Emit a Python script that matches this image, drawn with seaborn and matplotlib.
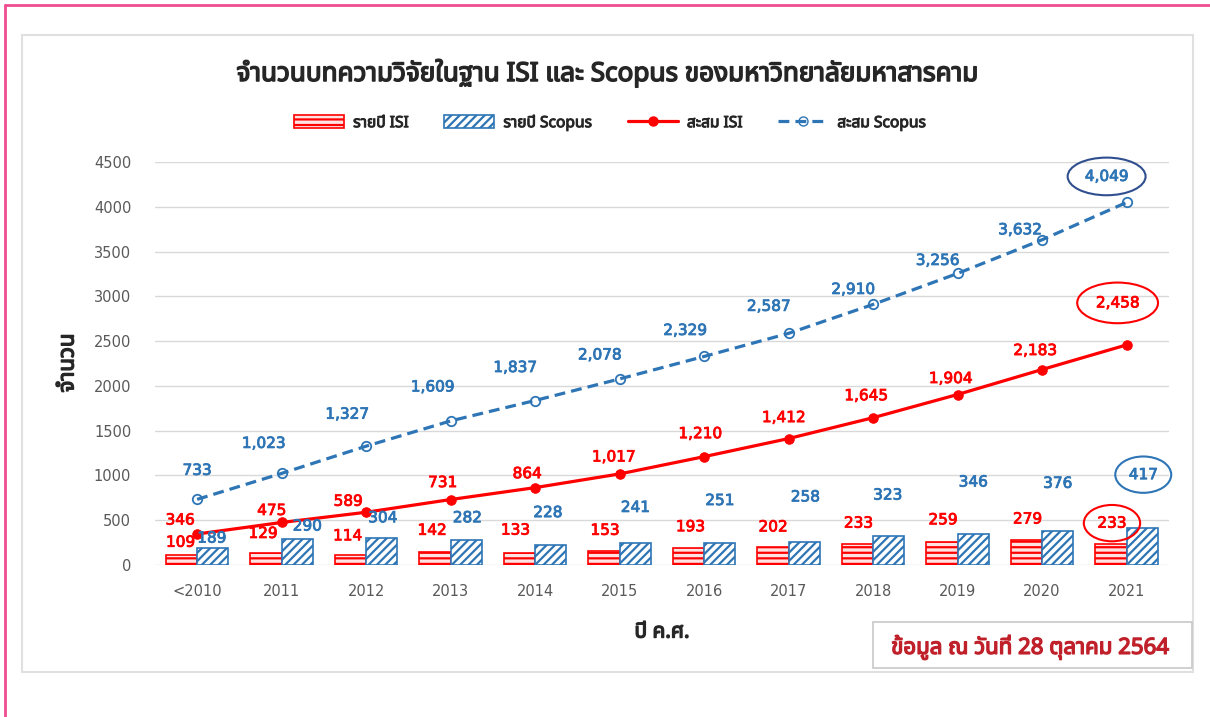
import numpy as np
import pandas as pd
import matplotlib
matplotlib.use("Agg")
import matplotlib.pyplot as plt
import matplotlib.patheffects as pe
import seaborn as sns
from matplotlib import font_manager as fm
from matplotlib.ft2font import FT2Font
from matplotlib.patches import Patch, Rectangle
from matplotlib.lines import Line2D

# ---------------- data ----------------
years = ["<2010", "2011", "2012", "2013", "2014", "2015", "2016", "2017", "2018", "2019", "2020", "2021"]
annual_isi = [109, 129, 114, 142, 133, 153, 193, 202, 233, 259, 279, 233]
annual_scopus = [189, 290, 304, 282, 228, 241, 251, 258, 323, 346, 376, 417]
cum_isi = [346, 475, 589, 731, 864, 1017, 1210, 1412, 1645, 1904, 2183, 2458]
cum_scopus = [733, 1023, 1327, 1609, 1837, 2078, 2329, 2587, 2910, 3256, 3632, 4049]
yticks = [0, 500, 1000, 1500, 2000, 2500, 3000, 3500, 4000, 4500]

title = "จำนวนบทความวิจัยในฐาน ISI และ Scopus ของมหาวิทยาลัยมหาสารคาม"
series_names = ["รายปี ISI", "รายปี Scopus", "สะสม ISI", "สะสม Scopus"]
ylabel = "จำนวน"
xlabel = "ปี ค.ศ."
note = "ข้อมูล ณ วันที่ 28 ตุลาคม 2564"

# label offsets (pixels) relative to their marks
isi_bar_dx = [-1, -3, -3, -3, -4, 1, 2, 0, 1, 1, 1, 1]
isi_bar_dy = [13, 20, 19, 22, 23, 21, 21, 20, 21, 22, 21, 21]
sco_bar_dx = [-1, 10, 1, 1, -3, 0, 0, 1, -1, 0, 0, 1]
sco_bar_dy = [10, 13, 20, 22, 32, 36, 42, 45, 41, 52, 48, 53]
isi_cum_dx = [-17, -10, -18, -8, -8, -6, -4, -5, -7, -7, -7, -9]
isi_cum_dy = [14, 12, 11, 17, 14, 17, 23, 21, 22, 16, 19, 42]
sco_cum_dx = [0, -18, -19, -18, -20, -20, -19, -20, -20, -20, -22, -20]
sco_cum_dy = [29, 30, 32, 34, 33, 24, 26, 27, 15, 13, 10, 26]

# ---------------- fonts ----------------
thai_font = None
preferred = ["Tahoma", "Noto Sans Thai", "Noto Sans Thai UI", "Loma", "Garuda", "Sarabun",
             "Umpush", "Kinnari", "Norasi"]
names_ok = []
for f in sorted(fm.fontManager.ttflist, key=lambda f: (f.name, f.fname)):
    try:
        ft = FT2Font(f.fname)
        if ft.get_char_index(0x0E01):
            names_ok.append(f.name)
    except Exception:
        pass
for p in preferred:
    if p in names_ok:
        thai_font = p
        break
if thai_font is None and names_ok:
    thai_font = names_ok[0]

sns.set_theme(style="white")
plt.rcParams["font.family"] = ["DejaVu Sans"] + ([thai_font] if thai_font else [])
plt.rcParams["hatch.linewidth"] = 1.6
thai_fam = ([thai_font] if thai_font else []) + ["DejaVu Sans"]


def fake_bold(color, w=0.9):
    return [pe.withStroke(linewidth=w, foreground=color)]


RED = "#FF0000"
BLUE = "#2E75B6"
GREY = "#595959"
DARK = "#262626"

fig = plt.figure(figsize=(12.10, 7.17), dpi=100)
fig.patch.set_facecolor("white")
ax = fig.add_axes([0.128, 0.212, 0.838, 0.562])

# ---------------- bars ----------------
df = pd.DataFrame({
    "year": years * 2,
    "value": annual_isi + annual_scopus,
    "series": [series_names[0]] * len(years) + [series_names[1]] * len(years),
})
sns.barplot(data=df, x="year", y="value", hue="series", order=years,
            hue_order=series_names[:2], palette=["#FFE3E3", "white"],
            width=0.74, dodge=True, legend=False, ax=ax, saturation=1,
            errorbar=None)
isi_patches = list(ax.containers[0])
sco_patches = list(ax.containers[1])
for p in isi_patches:
    p.set_edgecolor(RED); p.set_hatch("---"); p.set_linewidth(1.2); p.set_facecolor("#FFE3E3")
for p in sco_patches:
    p.set_edgecolor(BLUE); p.set_hatch("////"); p.set_linewidth(1.2); p.set_facecolor("white")

# ---------------- lines ----------------
xpos = np.arange(len(years))
sns.lineplot(x=xpos, y=cum_scopus, ax=ax, color=BLUE, linewidth=2.3,
             marker="o", markersize=6.8, markerfacecolor="none",
             markeredgecolor=BLUE, markeredgewidth=1.3, linestyle="--")
ax.lines[-1].set_dashes((3.4, 1.9))
sns.lineplot(x=xpos, y=cum_isi, ax=ax, color=RED, linewidth=2.3,
             marker="o", markersize=6.8, markerfacecolor=RED, markeredgecolor=RED)

# ---------------- labels ----------------
lab_kw = dict(textcoords="offset pixels", ha="center", va="center", fontsize=11)
last = len(years) - 1
for i, p in enumerate(isi_patches):
    xc = p.get_x() + p.get_width() / 2
    bbox = dict(boxstyle="ellipse,pad=0.35", fc="none", ec=RED, lw=1.5) if i == last else None
    ax.annotate(f"{annual_isi[i]:,}", (xc, annual_isi[i]), xytext=(isi_bar_dx[i], isi_bar_dy[i]),
                color=RED, bbox=bbox, path_effects=fake_bold(RED, 0.6), **lab_kw)
for i, p in enumerate(sco_patches):
    xc = p.get_x() + p.get_width() / 2
    bbox = dict(boxstyle="ellipse,pad=0.35", fc="none", ec=BLUE, lw=1.5) if i == last else None
    ax.annotate(f"{annual_scopus[i]:,}", (xc, annual_scopus[i]), xytext=(sco_bar_dx[i], sco_bar_dy[i]),
                color=BLUE, bbox=bbox, path_effects=fake_bold(BLUE, 0.6), **lab_kw)
for i in range(len(years)):
    bbox = dict(boxstyle="ellipse,pad=0.45", fc="none", ec=RED, lw=1.5) if i == last else None
    ax.annotate(f"{cum_isi[i]:,}", (xpos[i], cum_isi[i]), xytext=(isi_cum_dx[i], isi_cum_dy[i]),
                color=RED, bbox=bbox, path_effects=fake_bold(RED, 0.6), **lab_kw)
for i in range(len(years)):
    bbox = dict(boxstyle="ellipse,pad=0.38", fc="none", ec="#2F4F8F", lw=1.5) if i == last else None
    ax.annotate(f"{cum_scopus[i]:,}", (xpos[i], cum_scopus[i]), xytext=(sco_cum_dx[i], sco_cum_dy[i]),
                color=BLUE, bbox=bbox, path_effects=fake_bold(BLUE, 0.6), **lab_kw)

# ---------------- axes styling ----------------
ax.set_xlim(-0.5, len(years) - 0.5)
ax.set_ylim(0, 4500)
ax.set_yticks(yticks)
ax.set_yticklabels([str(t) for t in yticks])
ax.set_xticks(xpos)
ax.set_xticklabels(years)
ax.tick_params(axis="both", length=0, labelsize=10.5, labelcolor=GREY)
ax.tick_params(axis="y", pad=17)
ax.tick_params(axis="x", pad=14)
ax.grid(axis="y", color="#D9D9D9", linewidth=1)
ax.set_axisbelow(True)
for s in ax.spines.values():
    s.set_visible(False)
ax.set_xlabel("")
ax.set_ylabel("")
ax.set_facecolor("none")

fig.text(68 / 1210, 1 - 363 / 717, ylabel, rotation=90, ha="center", va="center",
         fontsize=16, color=DARK, family=thai_fam, path_effects=fake_bold(DARK, 1.0))
fig.text(662 / 1210, 1 - 632 / 717, xlabel, ha="center", va="center",
         fontsize=15, color=DARK, family=thai_fam, path_effects=fake_bold(DARK, 1.0))
fig.text(608 / 1210, 1 - 73 / 717, title, ha="center", va="center",
         fontsize=18.8, color=DARK, family=thai_fam, path_effects=fake_bold(DARK, 1.1))

# legend
handles = [
    Patch(facecolor="#FFE3E3", edgecolor=RED, hatch="---", linewidth=1.2),
    Patch(facecolor="white", edgecolor=BLUE, hatch="////", linewidth=1.2),
    Line2D([0], [0], color=RED, lw=2.3, marker="o", markersize=6.5, markerfacecolor=RED),
    Line2D([0], [0], color=BLUE, lw=2.3, linestyle=(0, (3.4, 1.9)), marker="o", markersize=6.5,
           markerfacecolor="none", markeredgecolor=BLUE),
]
leg = fig.legend(handles, series_names, loc="center", bbox_to_anchor=(610 / 1210, 1 - 123 / 717),
                 ncol=4, frameon=False, prop=dict(family=thai_fam, size=11.2),
                 handlelength=3.2, handleheight=0.9,
                 columnspacing=2.3, handletextpad=0.6, labelcolor=DARK)
for t in leg.get_texts():
    t.set_path_effects(fake_bold(DARK, 0.7))

# chart frame and page border
fig.add_artist(Rectangle((22 / 1210, 1 - 672 / 717), (1193 - 22) / 1210, (672 - 35) / 717,
                         transform=fig.transFigure, fill=False, ec="#E0E0E0", lw=1.5))
fig.add_artist(Line2D([5 / 1210, 5 / 1210], [0, 1 - 5 / 717], transform=fig.transFigure,
                      color="#EE4D92", lw=2))
fig.add_artist(Line2D([5 / 1210, 1], [1 - 5 / 717, 1 - 5 / 717], transform=fig.transFigure,
                      color="#EE4D92", lw=2))

# note box
fig.add_artist(Rectangle((873 / 1210, 1 - 668 / 717), (1192 - 873) / 1210, (668 - 622) / 717,
                         transform=fig.transFigure, fc="white", ec="#C8C8C8", lw=1.2))
fig.text(1030 / 1210, 1 - 647 / 717, note, ha="center", va="center", fontsize=16,
         color="#C0202A", family=thai_fam, path_effects=fake_bold("#C0202A", 1.0))

fig.savefig("out.png", dpi=100, facecolor="white")
